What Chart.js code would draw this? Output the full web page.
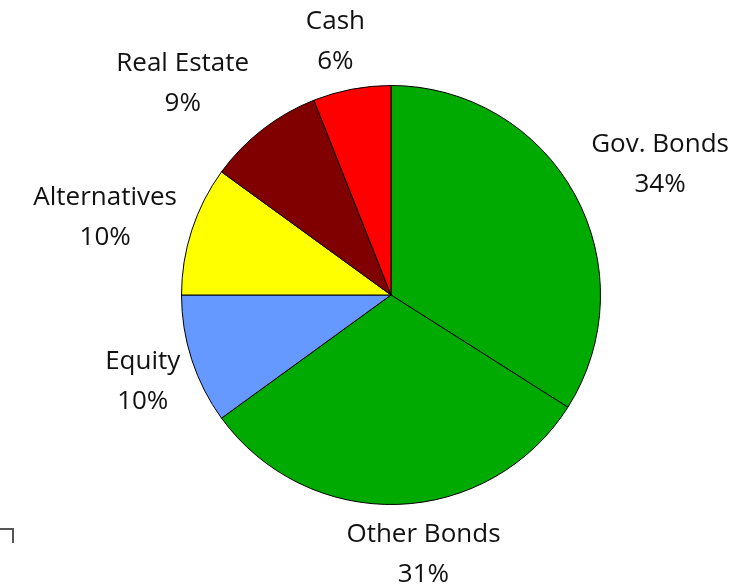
<!DOCTYPE html>
<html>
<head>
<meta charset="utf-8">
<script src="https://cdn.jsdelivr.net/npm/chart.js@4/dist/chart.umd.min.js"></script>
<style>
	html, body { margin: 0; padding: 0; background: #fff; }
	#wrap { width: 752px; height: 585px; position: relative; }
</style>
</head>
<body>
<div id="wrap"><canvas id="alloc_chart" width="752" height="585"></canvas></div>
<script>
const categories = ["Gov. Bonds", "Other Bonds", "Equity", "Alternatives", "Real Estate", "Cash"]
const weights = [34, 31, 10, 10, 9, 6]
const sliceColors = ["#00aa00", "#00aa00", "#6699ff", "#ffff00", "#800000", "#ff0000"]

const labelFont = "26px 'Open Sans', Lato, sans-serif"
const lineGap = 40

// puts "name / pct" just outside each slice, along its middle angle
const outsideLabels = {
	id: "outsideLabels",
	afterDatasetsDraw(chart, args, opts) {
		const ctx = chart.ctx
		const meta = chart.getDatasetMeta(0)
		ctx.save()
		ctx.font = labelFont
		ctx.fillStyle = "#111"
		ctx.textAlign = "center"
		ctx.textBaseline = "middle"
		meta.data.forEach(function(arc, i) {
			const mid = (arc.startAngle + arc.endAngle) / 2
			const dx = Math.cos(mid), dy = Math.sin(mid)
			const lines = [categories[i], weights[i] + "%"]
			const w = Math.max(...lines.map((t) => ctx.measureText(t).width))
			const h = lineGap + 24
			const shift = opts.nudge[i] || [0, 0]
			const cx = arc.x + dx * (arc.outerRadius + 15 + w / 2) + shift[0]
			const cy = arc.y + dy * (arc.outerRadius + 23 + h / 2) + shift[1]
			ctx.fillText(lines[0], cx, cy - lineGap / 2)
			ctx.fillText(lines[1], cx, cy + lineGap / 2)
		})
		// bit of frame left in the lower corner
		ctx.strokeStyle = "#555"
		ctx.lineWidth = 2
		ctx.beginPath()
		ctx.moveTo(0, 529)
		ctx.lineTo(13, 529)
		ctx.lineTo(13, 543)
		ctx.stroke()
		ctx.restore()
	}
}

const allocChart = new Chart(document.getElementById("alloc_chart").getContext("2d"), {
	type: "pie",
	data: {
		labels: categories,
		datasets: [{
			data: weights,
			backgroundColor: sliceColors,
			borderColor: "#000",
			borderWidth: 1
		}]
	},
	options: {
		responsive: false,
		animation: false,
		layout: { padding: { top: 85, bottom: 80, left: 181, right: 151 } },
		plugins: {
			legend: { display: false },
			tooltip: { enabled: false },
			outsideLabels: { nudge: [[12, -3], [23, -5], [1, 5], [-4, 4], [-30, -2], [-8, 6]] }
		}
	},
	plugins: [outsideLabels]
})
</script>
</body>
</html>
